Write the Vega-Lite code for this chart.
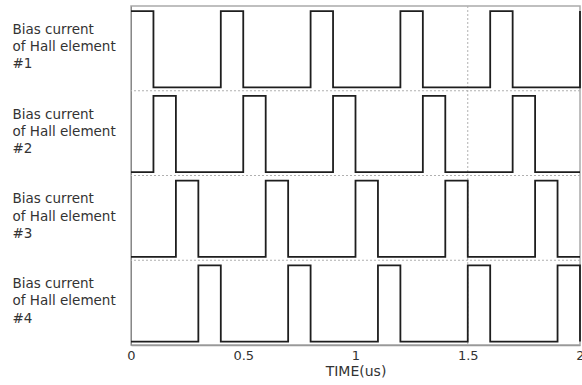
{
  "$schema": "https://vega.github.io/schema/vega-lite/v6.json",
  "autosize": {"type": "none"},
  "width": 449,
  "height": 339,
  "padding": {"left": 131, "top": 6, "right": 2, "bottom": 40},
  "background": "white",
  "config": {
    "font": "DejaVu Sans",
    "view": {"stroke": "#aaaaaa", "strokeWidth": 1.5}
  },
  "datasets": {
    "sig": [
      {"s": 1, "t": 0, "v": 3.94}, {"s": 1, "t": 0.1, "v": 3.04}, {"s": 1, "t": 0.4, "v": 3.94}, {"s": 1, "t": 0.5, "v": 3.04},
      {"s": 1, "t": 0.8, "v": 3.94}, {"s": 1, "t": 0.9, "v": 3.04}, {"s": 1, "t": 1.2, "v": 3.94}, {"s": 1, "t": 1.3, "v": 3.04},
      {"s": 1, "t": 1.6, "v": 3.94}, {"s": 1, "t": 1.7, "v": 3.04}, {"s": 1, "t": 2.0, "v": 3.94},
      {"s": 2, "t": 0, "v": 2.04}, {"s": 2, "t": 0.1, "v": 2.94}, {"s": 2, "t": 0.2, "v": 2.04}, {"s": 2, "t": 0.5, "v": 2.94},
      {"s": 2, "t": 0.6, "v": 2.04}, {"s": 2, "t": 0.9, "v": 2.94}, {"s": 2, "t": 1.0, "v": 2.04}, {"s": 2, "t": 1.3, "v": 2.94},
      {"s": 2, "t": 1.4, "v": 2.04}, {"s": 2, "t": 1.7, "v": 2.94}, {"s": 2, "t": 1.8, "v": 2.04}, {"s": 2, "t": 2.0, "v": 2.04},
      {"s": 3, "t": 0, "v": 1.04}, {"s": 3, "t": 0.2, "v": 1.94}, {"s": 3, "t": 0.3, "v": 1.04}, {"s": 3, "t": 0.6, "v": 1.94},
      {"s": 3, "t": 0.7, "v": 1.04}, {"s": 3, "t": 1.0, "v": 1.94}, {"s": 3, "t": 1.1, "v": 1.04}, {"s": 3, "t": 1.4, "v": 1.94},
      {"s": 3, "t": 1.5, "v": 1.04}, {"s": 3, "t": 1.8, "v": 1.94}, {"s": 3, "t": 1.9, "v": 1.04}, {"s": 3, "t": 2.0, "v": 1.04},
      {"s": 4, "t": 0, "v": 0.04}, {"s": 4, "t": 0.3, "v": 0.94}, {"s": 4, "t": 0.4, "v": 0.04}, {"s": 4, "t": 0.7, "v": 0.94},
      {"s": 4, "t": 0.8, "v": 0.04}, {"s": 4, "t": 1.1, "v": 0.94}, {"s": 4, "t": 1.2, "v": 0.04}, {"s": 4, "t": 1.5, "v": 0.94},
      {"s": 4, "t": 1.6, "v": 0.04}, {"s": 4, "t": 1.9, "v": 0.94}, {"s": 4, "t": 2.0, "v": 0.04}
    ],
    "hgrid": [{"y": 1}, {"y": 2}, {"y": 3}],
    "vgrid": [{"x": 1.5}]
  },
  "layer": [
    {
      "data": {"name": "hgrid"},
      "mark": {"type": "rule", "color": "#b0b0b0", "strokeWidth": 1, "strokeDash": [2, 2]},
      "encoding": {
        "y": {"field": "y", "type": "quantitative", "scale": {"domain": [0, 4]}}
      }
    },
    {
      "data": {"name": "vgrid"},
      "mark": {"type": "rule", "color": "#b0b0b0", "strokeWidth": 1, "strokeDash": [2, 2]},
      "encoding": {
        "x": {"field": "x", "type": "quantitative", "scale": {"domain": [0, 2]}}
      }
    },
    {
      "data": {"name": "sig"},
      "mark": {"type": "line", "interpolate": "step-after", "color": "#1e1e1e", "strokeWidth": 1.8, "clip": false},
      "encoding": {
        "x": {
          "field": "t", "type": "quantitative",
          "scale": {"domain": [0, 2], "nice": false, "zero": false},
          "axis": {
            "title": "TIME(us)", "values": [0, 0.5, 1, 1.5, 2], "format": "~g",
            "grid": false, "ticks": false, "domainColor": "#999999", "domainWidth": 1.5,
            "labelFontSize": 13, "labelColor": "#333333", "labelPadding": 4,
            "labelFlush": false,
            "titleFontSize": 14, "titleFontWeight": "normal", "titleColor": "#333333", "titlePadding": 2
          }
        },
        "y": {
          "field": "v", "type": "quantitative",
          "scale": {"domain": [0, 4], "nice": false, "zero": false},
          "axis": {
            "title": null, "values": [0.5, 1.5, 2.5, 3.5],
            "grid": false, "ticks": false, "domainColor": "#888888", "domainWidth": 1,
            "labelAlign": "left", "labelBaseline": "middle", "labelPadding": 119,
            "labelFontSize": 13.5, "labelColor": "#333333", "labelLineHeight": 17.3, "labelOffset": -19,
            "labelFlush": false, "labelOverlap": false,
            "labelExpr": "datum.value == 3.5 ? ['Bias current', 'of Hall element', '#1'] : datum.value == 2.5 ? ['Bias current', 'of Hall element', '#2'] : datum.value == 1.5 ? ['Bias current', 'of Hall element', '#3'] : ['Bias current', 'of Hall element', '#4']"
          }
        },
        "detail": {"field": "s", "type": "nominal"}
      }
    }
  ]
}
